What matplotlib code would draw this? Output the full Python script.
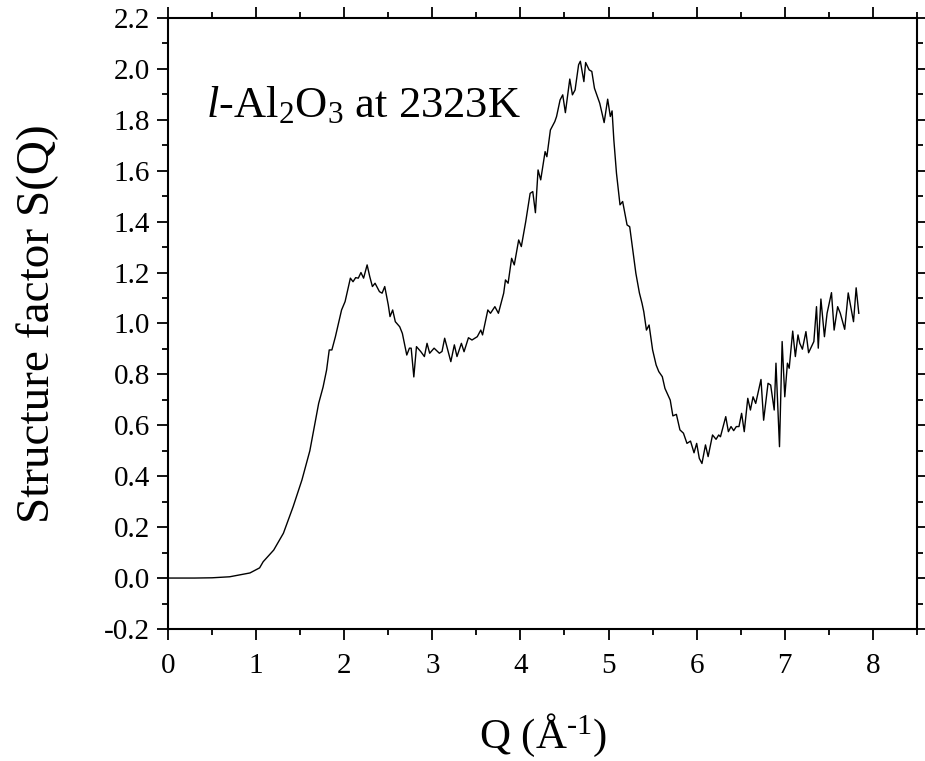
import matplotlib
matplotlib.use("Agg")
import matplotlib.pyplot as plt
from matplotlib.ticker import MultipleLocator, FormatStrFormatter

plt.rcParams['font.family'] = ['Liberation Serif', 'DejaVu Serif']
plt.rcParams['mathtext.fontset'] = 'custom'
plt.rcParams['mathtext.rm'] = 'Liberation Serif'
plt.rcParams['mathtext.it'] = 'Liberation Serif:italic'

# S(Q)
q = [0.00, 0.30, 0.50, 0.70, 0.93, 1.04, 1.08, 1.20, 1.31, 1.42, 1.52, 1.61,
     1.71, 1.76, 1.80, 1.83, 1.86, 1.90, 1.97, 2.01, 2.07, 2.10, 2.13, 2.16,
     2.19, 2.22, 2.26, 2.29, 2.32, 2.35, 2.40, 2.43, 2.46, 2.50, 2.52, 2.55,
     2.58, 2.63, 2.66, 2.69, 2.71, 2.74, 2.76, 2.79, 2.82, 2.87, 2.91, 2.94,
     2.97, 3.02, 3.08, 3.11, 3.14, 3.18, 3.21, 3.25, 3.28, 3.33, 3.36, 3.41,
     3.45, 3.51, 3.55, 3.57, 3.63, 3.66, 3.71, 3.75, 3.81, 3.83, 3.86, 3.90,
     3.93, 3.98, 4.01, 4.06, 4.11, 4.14, 4.17, 4.20, 4.23, 4.28, 4.30, 4.34,
     4.39, 4.41, 4.45, 4.48, 4.51, 4.56, 4.59, 4.62, 4.66, 4.68, 4.72, 4.74,
     4.78, 4.81, 4.84, 4.90, 4.95, 4.99, 5.02, 5.04, 5.06, 5.09, 5.13, 5.16,
     5.21, 5.24, 5.28, 5.31, 5.35, 5.38, 5.40, 5.43, 5.46, 5.50, 5.54, 5.57,
     5.61, 5.64, 5.70, 5.73, 5.77, 5.81, 5.85, 5.89, 5.93, 5.97, 6.00, 6.03,
     6.06, 6.10, 6.13, 6.18, 6.22, 6.25, 6.27, 6.33, 6.36, 6.39, 6.42, 6.45,
     6.48, 6.51, 6.54, 6.58, 6.61, 6.64, 6.67, 6.73, 6.76, 6.81, 6.84, 6.88,
     6.90, 6.94, 6.97, 7.00, 7.03, 7.05, 7.09, 7.12, 7.15, 7.17, 7.20, 7.24,
     7.27, 7.33, 7.36, 7.38, 7.41, 7.45, 7.48, 7.53, 7.56, 7.60, 7.63, 7.68,
     7.72, 7.78, 7.81, 7.84]
s = [0.000, 0.000, 0.001, 0.005, 0.020, 0.040, 0.064, 0.110, 0.176, 0.280, 0.385, 0.500,
     0.686, 0.750, 0.817, 0.896, 0.896, 0.948, 1.053, 1.086, 1.178, 1.164, 1.180, 1.178,
     1.200, 1.178, 1.230, 1.184, 1.145, 1.158, 1.125, 1.119, 1.145, 1.073, 1.027, 1.053,
     1.007, 0.987, 0.961, 0.909, 0.876, 0.903, 0.903, 0.790, 0.909, 0.889, 0.870, 0.922,
     0.883, 0.903, 0.883, 0.890, 0.942, 0.889, 0.850, 0.916, 0.870, 0.922, 0.889, 0.944,
     0.935, 0.948, 0.974, 0.955, 1.053, 1.040, 1.066, 1.040, 1.119, 1.171, 1.158, 1.256,
     1.230, 1.328, 1.302, 1.400, 1.511, 1.518, 1.435, 1.603, 1.564, 1.675, 1.655, 1.760,
     1.793, 1.813, 1.878, 1.898, 1.828, 1.960, 1.898, 1.917, 2.016, 2.030, 1.950, 2.025,
     1.996, 1.990, 1.924, 1.865, 1.789, 1.881, 1.813, 1.835, 1.721, 1.590, 1.466, 1.479,
     1.387, 1.380, 1.276, 1.197, 1.120, 1.079, 1.046, 0.974, 0.994, 0.896, 0.837, 0.811,
     0.791, 0.745, 0.699, 0.637, 0.643, 0.582, 0.569, 0.529, 0.538, 0.492, 0.529, 0.470,
     0.450, 0.523, 0.477, 0.562, 0.545, 0.562, 0.555, 0.634, 0.575, 0.595, 0.579, 0.595,
     0.595, 0.647, 0.575, 0.706, 0.660, 0.712, 0.686, 0.780, 0.620, 0.765, 0.758, 0.660,
     0.844, 0.516, 0.929, 0.712, 0.844, 0.824, 0.970, 0.870, 0.955, 0.922, 0.899, 0.968,
     0.885, 0.929, 1.066, 0.903, 1.096, 0.948, 1.040, 1.121, 0.974, 1.066, 1.040, 0.977,
     1.120, 1.007, 1.140, 1.040]

fig = plt.figure(figsize=(9.25, 7.61), dpi=100)
ax = fig.add_axes([0.1816, 0.1735, 0.8097, 0.8029])
ax.plot(q, s, color='black', linewidth=1.0)

ax.set_xlim(0, 8.5)
ax.set_ylim(-0.2, 2.2)
ax.xaxis.set_major_locator(MultipleLocator(1))
ax.xaxis.set_minor_locator(MultipleLocator(0.5))
ax.yaxis.set_major_locator(MultipleLocator(0.2))
ax.yaxis.set_minor_locator(MultipleLocator(0.1))
ax.yaxis.set_major_formatter(FormatStrFormatter('%.1f'))

for sp in ax.spines.values():
    sp.set_linewidth(1.5)
ax.tick_params(which='both', direction='out', top=True, right=True,
               labelsize=21, width=1.3)
ax.tick_params(axis='x', which='major', pad=9)
ax.tick_params(axis='y', which='major', pad=5)
ax.tick_params(which='major', length=8)
ax.tick_params(which='minor', length=4.5)

ax.set_xlabel(r'Q (Å$^{\text{-1}}$)', fontsize=31, labelpad=24)
ax.set_ylabel('Structure factor S(Q)', fontsize=34, labelpad=32)

ax.text(0.43, 1.81, r'$\mathit{l}$-Al$_{\mathrm{2}}$O$_{\mathrm{3}}$ at 2323K',
        fontsize=32, va='baseline')

fig.savefig('out.png', dpi=100)
